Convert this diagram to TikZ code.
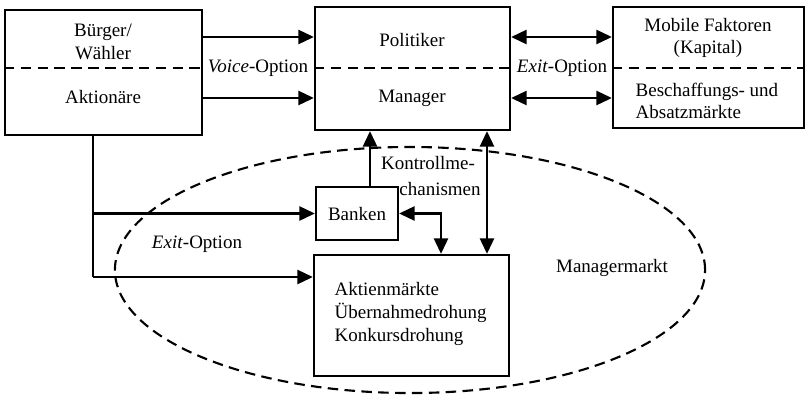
\documentclass[tikz,border=0pt]{standalone}
\usepackage{fontspec}
\setmainfont{Liberation Serif}
\usetikzlibrary{arrows.meta,positioning,calc}
\tikzset{box/.style={draw, line width=1.6pt, inner sep=0pt}}
\tikzset{arr/.style={line width=1.6pt, -{Triangle[length=11pt,width=10pt]}}}
\tikzset{dblarr/.style={line width=1.6pt, {Triangle[length=11pt,width=10pt]}-{Triangle[length=11pt,width=10pt]}}}
\tikzset{divider/.style={line width=1.5pt, dash pattern=on 7.5pt off 4.5pt}}
\tikzset{lbl/.style={font=\fontsize{13.5}{16.2}\selectfont, align=center, inner sep=1pt}}

\begin{document}
\begin{tikzpicture}[x=0.025cm, y=-0.025cm]
\useasboundingbox (0,0) rectangle (805,397);

% boxes
\node[box, minimum width=4.925cm, minimum height=3.125cm] (leftbox) at (103.5,72.5) {};
\node[box, minimum width=4.875cm, minimum height=3.075cm] (midbox) at (412.5,68.5) {};
\node[box, minimum width=4.775cm, minimum height=3.025cm] (rightbox) at (708.5,67.5) {};
\node[box, minimum width=2.05cm, minimum height=1.325cm, lbl] (banks) at (357,213.5) {Banken};
\node[box, minimum width=4.875cm, minimum height=3.025cm] (markets) at (411.5,315.5) {};

\coordinate (divy) at (0,68);
\coordinate (upy) at (0,37);
\coordinate (lowy) at (0,98);
\coordinate (branch) at (93,277);
\coordinate (xk) at (370,0);
\coordinate (xm) at (487,0);
\coordinate (xb) at (441,0);

\draw[divider] (leftbox.west |- divy) -- (leftbox.east |- divy);
\draw[divider] (midbox.west |- divy) -- (midbox.east |- divy);
\draw[divider] (rightbox.west |- divy) -- (rightbox.east |- divy);

% texts
\node[lbl] (citizens) at (103,42) {Bürger/\\Wähler};
\node[lbl] (holders) at (103,97) {Aktionäre};
\node[lbl] (politicians) at (412,40) {Politiker};
\node[lbl] (managers) at (412,98) {Manager};
\node[lbl] (mobile) at (708,38) {Mobile Faktoren\\(Kapital)};
\node[lbl, align=left, anchor=west] (supply) at (634,101) {Beschaffungs- und\\Absatzmärkte};
\node[lbl, align=left, anchor=west] (threats) at (333,314) {Aktienmärkte\\Übernahmedrohung\\Konkursdrohung};
\node[lbl] (voice) at (258,68) {\textit{Voice}-Option};
\node[lbl] (exitup) at (562,68) {\textit{Exit}-Option};
\node[lbl] (exitlow) at (197,244) {\textit{Exit}-Option};
\node[lbl] (control1) at (428,163) {Kontrollme-};
\node[lbl] (control2) at (440,189) {chanismen};
\node[lbl] (mgrmarket) at (612,268) {Managermarkt};

% connectors
\draw[arr] (leftbox.east |- upy) -- (midbox.west |- upy);
\draw[arr] (leftbox.east |- lowy) -- (midbox.west |- lowy);
\draw[dblarr] (midbox.east |- upy) -- (rightbox.west |- upy);
\draw[dblarr] (midbox.east |- lowy) -- (rightbox.west |- lowy);

\draw[line width=1.6pt] (leftbox.south -| branch) -- (branch);
\draw[arr] (branch |- banks.west) -- (banks.west);
\draw[arr] (branch) -- (markets.west |- branch);

\draw[arr] (banks.north -| xk) -- (midbox.south -| xk);
\draw[dblarr] (midbox.south -| xm) -- (markets.north -| xm);
\draw[dblarr] (banks.east) -| (markets.north -| xb);

\draw[divider] (410,270) ellipse [x radius=7.375cm, y radius=3.075cm];
\end{tikzpicture}
\end{document}
